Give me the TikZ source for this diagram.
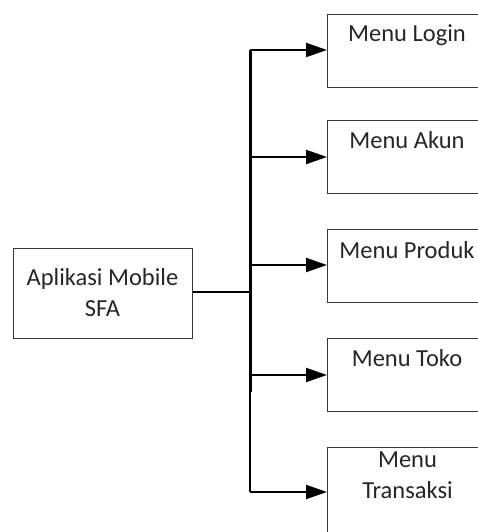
\documentclass[tikz,border=0pt]{standalone}
\usepackage{fontspec}
\setmainfont{Carlito}
\usetikzlibrary{arrows.meta}
\begin{document}
\begin{tikzpicture}[x=1pt,y=-1pt,
  box/.style={draw=black!78, line width=1.3pt, fill=white, inner sep=0pt, anchor=north west},
  menubox/.style={box, minimum width=160pt, minimum height=73pt},
  label text/.style={font=\fontsize{24.5}{30.5}\selectfont, text=black!85, inner sep=0pt, anchor=base, align=center},
  conn/.style={line width=2pt, black},
  arrowline/.style={conn, -{Triangle[length=21pt, width=14pt]}}
]
\useasboundingbox (0,0) rectangle (478,532);
\clip (0,0) rectangle (478,532);

% root box
\node[box, minimum width=179pt, minimum height=90pt] (app) at (13,248) {};
% the base anchor of a two-line node sits on its last line
\node[label text] (apptext) at (102.5,316) {Aplikasi Mobile\\SFA};

% menu boxes
\node[menubox] (login) at (327,14) {};
\node[menubox] (akun) at (327,120) {};
\node[menubox] (produk) at (327,229) {};
\node[menubox] (toko) at (327,338) {};
\node[box, minimum width=160pt, minimum height=100pt] (trans) at (327,447) {};

\node[label text] (tlogin) at (407,42) {Menu Login};
\node[label text] (takun) at (407,148) {Menu Akun};
\node[label text] (tproduk) at (407,258) {Menu Produk};
\node[label text] (ttoko) at (407,366) {Menu Toko};
\node[label text] (ttrans) at (407.5,498) {Menu\\Transaksi};

% spine junctions
\coordinate (j1) at (250,50);
\coordinate (j2) at (250,157);
\coordinate (j3) at (250,265);
\coordinate (j4) at (250,375);
\coordinate (j5) at (250,492);
\coordinate (jm) at (250,292);
\coordinate (jt) at (250,392);

% spine
\draw[conn, line width=3pt] (j1) -- (jt);
\draw[conn] (j4) -- (j5);

% root to spine
\draw[conn, line width=2.4pt] (app.east |- jm) -- (jm);

% branches
\draw[arrowline] (j1) -- (j1 -| login.west);
\draw[arrowline] (j2) -- (j2 -| akun.west);
\draw[arrowline] (j3) -- (j3 -| produk.west);
\draw[arrowline] (j4) -- (j4 -| toko.west);
\draw[arrowline] (j5) -- (j5 -| trans.west);
\end{tikzpicture}
\end{document}
